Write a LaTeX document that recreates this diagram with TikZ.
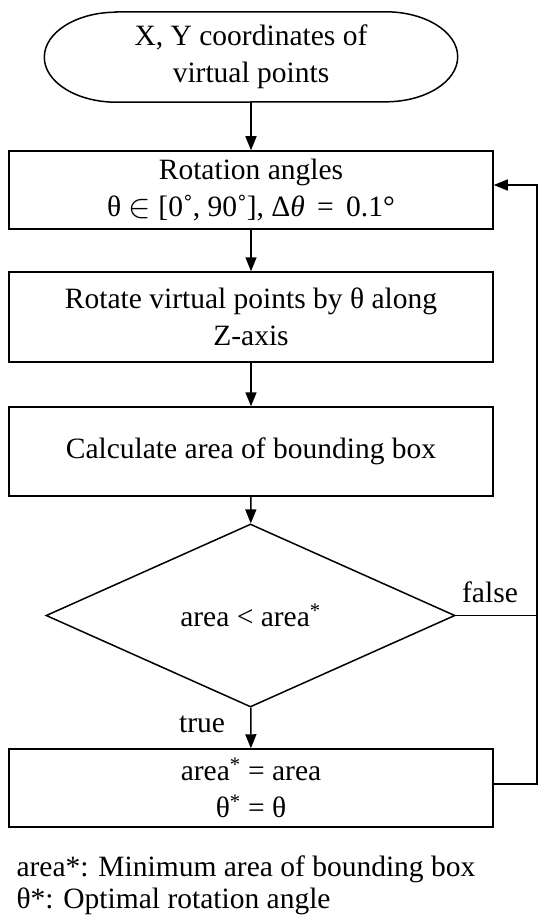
\documentclass[tikz,border=0pt]{standalone}
\usepackage{fontspec}
\setmainfont{Liberation Serif}
\usetikzlibrary{arrows.meta}
\usetikzlibrary{shapes.geometric}

\begin{document}
\begin{tikzpicture}[x=1pt,y=-1pt,font=\fontsize{29.5}{37}\selectfont,
        box/.style={draw,line width=1.5pt,minimum width=484pt,align=center,inner sep=0pt},
        flow/.style={line width=1.5pt,-{Triangle[length=14pt,width=11pt]}}]
        \useasboundingbox (0,0) rectangle (550,923);
        \node[minimum width=413pt,minimum height=90pt,align=center,inner sep=0pt] (start) at (251,57) {X, Y coordinates of\\virtual points};
        \draw[line width=1.5pt] ([xshift=72pt]start.north west) -- ([xshift=-72pt]start.north east)
            arc[start angle=90,end angle=-90,x radius=72pt,y radius=45pt]
            -- ([xshift=72pt]start.south west)
            arc[start angle=270,end angle=90,x radius=72pt,y radius=45pt] -- cycle;
        \node[box,minimum height=78pt] (rot) at (251,190) {Rotation angles\\θ \raisebox{-1pt}{\scalebox{1.35}{$\in$}} [0˚, 90˚], Δ\textit{θ}\, =\, 0.1°};
        \node[box,minimum height=90pt] (turn) at (251,317) {Rotate virtual points by θ along\\Z-axis};
        \node[box,minimum height=89pt] (calc) at (251,451.5) {Calculate area of bounding box};
        \node[draw,diamond,aspect=2.235,line width=1.5pt,minimum width=409pt,minimum height=183pt,inner sep=0pt] (test) at (250.5,615.5) {area < area\textsuperscript{*}};
        \node[box,minimum height=78pt] (upd) at (251,788) {area\textsuperscript{*} = area\\θ\textsuperscript{*} = θ};
        \node (no) at (490,592) {false};
        \node (yes) at (202,724) {true};
        \node[align=left,anchor=west,font=\fontsize{29.5}{32}\selectfont] (note) at (13,885.5) {area*: Minimum area of bounding box\\θ*: Optimal rotation angle};
        \coordinate (c1) at (537,784);
        \coordinate (c2) at (537,185);
        \draw[flow] (start) -- (rot);
        \draw[flow] (rot) -- (turn);
        \draw[flow] (turn) -- (calc);
        \draw[flow] (calc) -- (test);
        \draw[flow] (test) -- (upd);
        \draw[flow] ([yshift=4pt]upd.east) -- (c1) -- (c2) -- ([yshift=5pt]rot.east);
        \draw[line width=1.5pt] (test.east) -- (test.east -| c1);
    \end{tikzpicture}
\end{document}
